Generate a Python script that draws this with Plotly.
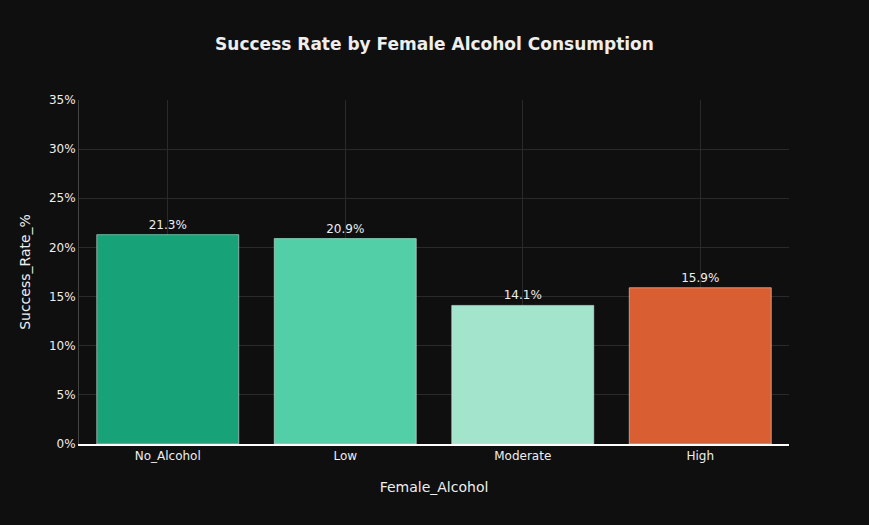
import plotly.graph_objects as go

categories = ["No_Alcohol", "Low", "Moderate", "High"]
success_rate = [21.3, 20.9, 14.1, 15.9]
bar_colors = ["#17a277", "#52cfa6", "#a3e4cc", "#d95f32"]

fig = go.Figure(go.Bar(
    x=categories,
    y=success_rate,
    marker=dict(color=bar_colors, line=dict(color="rgba(220,220,220,0.6)", width=1)),
    text=[f"{v:.1f}%" for v in success_rate],
    textposition="outside",
    textfont=dict(color="#eeeeee", size=12, family="DejaVu Sans"),
    cliponaxis=False,
))

fig.update_layout(
    width=869, height=525,
    paper_bgcolor="#0f0f0f",
    plot_bgcolor="#0f0f0f",
    margin=dict(l=79, r=80, t=100, b=81),
    bargap=0.2,
    showlegend=False,
    font=dict(family="DejaVu Sans", color="#eeeeee", size=12),
    title=dict(
        text="<b>Success Rate by Female Alcohol Consumption</b>",
        x=0.5, xanchor="center", y=0.917, yanchor="middle",
        font=dict(size=17, color="#eeeeee", family="Verdana, DejaVu Sans"),
    ),
    xaxis=dict(
        title=dict(text="Female_Alcohol", font=dict(size=14, color="#eeeeee"), standoff=20),
        showgrid=True, gridcolor="#2a2a2a",
        showline=True, linecolor="#ffffff", linewidth=2,
        tickfont=dict(size=12, color="#eeeeee"),
        ticks="",
    ),
    yaxis=dict(
        title=dict(text="Success_Rate_%", font=dict(size=14, color="#eeeeee")),
        range=[0, 35], dtick=5, ticksuffix="%",
        showgrid=True, gridcolor="#2a2a2a",
        showline=True, linecolor="#444444", linewidth=1,
        zeroline=False,
        tickfont=dict(size=12, color="#eeeeee"),
    ),
)

fig.write_html(
    "out.html",
    config={"displayModeBar": False},
    post_script="document.body.style.margin='0';document.body.style.background='#0f0f0f';",
)
